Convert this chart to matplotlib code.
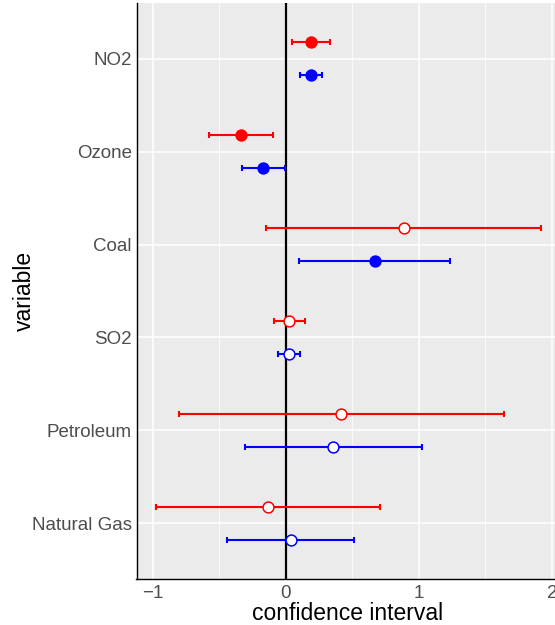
import matplotlib
matplotlib.use("Agg")
import matplotlib.pyplot as plt
import numpy as np

# estimates and interval bounds, two series per variable
variables = ["Natural Gas", "Petroleum", "SO2", "Coal", "Ozone", "NO2"]

red_est = [-0.135, 0.414, 0.025, 0.885, -0.338, 0.188]
red_low = [-0.980, -0.807, -0.090, -0.150, -0.579, 0.048]
red_high = [0.709, 1.639, 0.140, 1.920, -0.098, 0.331]
red_sig = [False, False, False, False, True, True]

blue_est = [0.035, 0.353, 0.020, 0.667, -0.170, 0.188]
blue_low = [-0.441, -0.308, -0.060, 0.100, -0.328, 0.108]
blue_high = [0.509, 1.020, 0.103, 1.231, -0.010, 0.273]
blue_sig = [False, False, False, True, True, True]

plt.rcParams['font.family'] = ['Liberation Sans', 'DejaVu Sans']

fig = plt.figure(figsize=(5.55, 6.25), dpi=100)
# panel runs slightly past the right edge of the saved image
ax = fig.add_axes([136.5 / 555, 46 / 625, (559 - 136.5) / 555, 576 / 625])
ax.set_facecolor('#EBEBEB')

pos = np.arange(1, len(variables) + 1)
dodge = 0.175

def draw_series(offset, est, low, high, sig, color):
    y = pos + offset
    est = np.array(est)
    err = [est - np.array(low), np.array(high) - est]
    ax.errorbar(est, y, xerr=err, fmt='none', ecolor=color, elinewidth=1.5,
                capsize=2.2, capthick=1.5, zorder=3)
    for xi, yi, s in zip(est, y, sig):
        ax.plot(xi, yi, 'o', ms=7.8, mec=color, mew=1.1,
                mfc=color if s else 'white', zorder=4)

draw_series(dodge, red_est, red_low, red_high, red_sig, '#FF0000')
draw_series(-dodge, blue_est, blue_low, blue_high, blue_sig, '#0000FF')

ax.axvline(0, color='black', lw=1.6, zorder=2)

ax.set_xlim(-1.124, 2.054)
ax.set_ylim(0.4, 6.6)
ax.set_xticks([-1, 0, 1, 2])
ax.set_xticklabels(['\u22121', '0', '1', '2'])
ax.set_xticks([-0.5, 0.5, 1.5], minor=True)
ax.set_yticks(pos)
ax.set_yticklabels(variables)

ax.grid(which='major', color='white', lw=1.1, zorder=0)
ax.grid(which='minor', axis='x', color='white', lw=0.55, zorder=0)
ax.set_axisbelow(True)

ax.tick_params(which='both', length=0, labelsize=13.5, labelcolor='#4D4D4D')
ax.tick_params(axis='x', pad=4)
ax.tick_params(axis='y', pad=3.5)

for side in ['top', 'right']:
    ax.spines[side].set_visible(False)
for side in ['left', 'bottom']:
    ax.spines[side].set_color('black')
    ax.spines[side].set_linewidth(1.0)

ax.set_xlabel('confidence interval', fontsize=16.5, labelpad=0)
ax.set_ylabel('variable', fontsize=16.5)
ax.yaxis.set_label_coords(-0.238, 0.5)

fig.savefig('out.png', dpi=100)
